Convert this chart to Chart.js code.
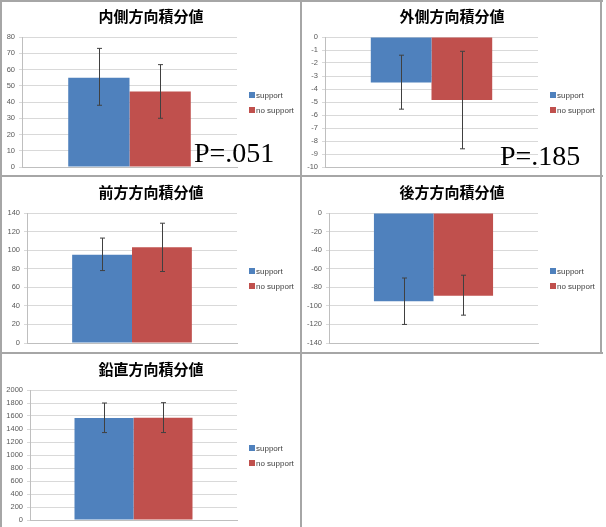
<!DOCTYPE html>
<html>
<head>
<meta charset="utf-8">
<script src="https://cdn.jsdelivr.net/npm/chart.js@4.4.0/dist/chart.umd.min.js"></script>
<style>
  body { margin: 0; background: #fff; width: 606px; height: 527px; position: relative; overflow: hidden; }
  .panel { position: absolute; width: 300px; height: 176px; }
  .panel canvas { position: absolute; left: 0; top: 0; }
  .line { position: absolute; background: #a6a6a6; }
  .pval { position: absolute; font-family: 'Liberation Serif', 'DejaVu Serif', serif; font-size: 28px; color: #000; }
</style>
</head>
<body>
<div class="panel" style="left:1px;top:1px"><canvas id="c1" width="300" height="176"></canvas></div>
<div class="panel" style="left:302px;top:1px"><canvas id="c2" width="300" height="176"></canvas></div>
<div class="panel" style="left:1px;top:177px"><canvas id="c3" width="300" height="176"></canvas></div>
<div class="panel" style="left:302px;top:177px"><canvas id="c4" width="300" height="176"></canvas></div>
<div class="panel" style="left:1px;top:354px"><canvas id="c5" width="300" height="176"></canvas></div>

<div class="line" style="left:0;top:0;width:603px;height:2px"></div>
<div class="line" style="left:0;top:0;width:2px;height:527px"></div>
<div class="line" style="left:300px;top:0;width:2px;height:527px"></div>
<div class="line" style="left:600px;top:0;width:2px;height:354px"></div>
<div class="line" style="left:0;top:175px;width:603px;height:2px"></div>
<div class="line" style="left:0;top:352px;width:603px;height:2px"></div>

<div class="pval" style="left:194px;top:137px">P=.051</div>
<div class="pval" style="left:500px;top:140px">P=.185</div>

<script>
const seriesNames = ['support', 'no support'];
const seriesColors = ['#4F81BD', '#C0504D'];

const innerTitle = '内側方向積分値';
const innerMeans = [55, 46.5];
const innerLow = [38, 30];
const innerHigh = [73, 63];
const innerRange = [0, 80, 10];

const outerTitle = '外側方向積分値';
const outerMeans = [-3.5, -4.85];
const outerLow = [-5.55, -8.6];
const outerHigh = [-1.4, -1.1];
const outerRange = [-10, 0, 1];

const frontTitle = '前方方向積分値';
const frontMeans = [95, 103];
const frontLow = [78, 77];
const frontHigh = [113, 129];
const frontRange = [0, 140, 20];

const backTitle = '後方方向積分値';
const backMeans = [-95, -89];
const backLow = [-120, -110];
const backHigh = [-70, -67];
const backRange = [-140, 0, 20];

const vertTitle = '鉛直方向積分値';
const vertMeans = [1570, 1575];
const vertLow = [1345, 1345];
const vertHigh = [1800, 1805];
const vertRange = [0, 2000, 200];

// draws the error bars from the dataset's low/high arrays
const errorBars = {
    id: 'errorBars',
    afterDatasetsDraw(chart) {
        const ctx = chart.ctx;
        const y = chart.scales.y;
        ctx.save();
        ctx.strokeStyle = '#404040';
        ctx.lineWidth = 1;
        chart.data.datasets.forEach((ds, i) => {
            const meta = chart.getDatasetMeta(i);
            meta.data.forEach((bar, j) => {
                const x = Math.round(bar.x) + 0.5;
                const top = y.getPixelForValue(ds.errHigh[j]);
                const bot = y.getPixelForValue(ds.errLow[j]);
                ctx.beginPath();
                ctx.moveTo(x, top); ctx.lineTo(x, bot);
                ctx.moveTo(x - 2.5, top); ctx.lineTo(x + 2.5, top);
                ctx.moveTo(x - 2.5, bot); ctx.lineTo(x + 2.5, bot);
                ctx.stroke();
            });
        });
        ctx.restore();
    }
};

// small excel-style legend to the right of the plot
const sideLegend = {
    id: 'sideLegend',
    afterDraw(chart) {
        const ctx = chart.ctx;
        const area = chart.chartArea;
        const x0 = area.right + 12;
        const mid = (area.top + area.bottom) / 2;
        ctx.save();
        ctx.font = "8px 'Liberation Sans'";
        ctx.textBaseline = 'middle';
        chart.data.datasets.forEach((ds, i) => {
            const yc = Math.round(mid - 7 + i * 15);
            ctx.fillStyle = ds.backgroundColor;
            ctx.fillRect(x0, yc - 3, 6, 6);
            ctx.fillStyle = '#404040';
            ctx.fillText(ds.label, x0 + 7, yc + 0.5);
        });
        ctx.restore();
    }
};

function makeChart(id, title, means, low, high, range, axisWidth) {
    const datasets = seriesNames.map((name, i) => ({
        label: name,
        data: [means[i]],
        errLow: [low[i]],
        errHigh: [high[i]],
        backgroundColor: seriesColors[i],
        borderWidth: 0,
        barPercentage: 1,
        categoryPercentage: 0.57
    }));
    return new Chart(document.getElementById(id), {
        type: 'bar',
        data: { labels: [''], datasets: datasets },
        plugins: [errorBars, sideLegend],
        options: {
            responsive: false,
            animation: false,
            layout: { padding: { left: 0, right: 0, top: 0, bottom: 2 } },
            plugins: {
                title: {
                    display: true,
                    text: title,
                    color: '#000',
                    font: { family: "'Noto Sans CJK JP'", size: 15, weight: 'bold' },
                    padding: { top: 6, bottom: 12 }
                },
                legend: { display: false },
                tooltip: { enabled: false }
            },
            scales: {
                x: {
                    grid: { display: false },
                    border: { color: '#bfbfbf' },
                    ticks: { display: false }
                },
                y: {
                    min: range[0], max: range[1],
                    ticks: {
                        stepSize: range[2],
                        autoSkip: false,
                        color: '#595959',
                        padding: 4,
                        font: { family: "'Liberation Sans'", size: 7.5 },
                        callback: (v) => String(v)
                    },
                    grid: { color: '#d9d9d9', tickLength: 3 },
                    border: { color: '#bfbfbf' },
                    afterFit(scale) { scale.width = axisWidth; }
                },
                // empty right-hand axis that keeps room for the legend
                side: {
                    position: 'right',
                    grid: { display: false },
                    border: { display: false },
                    ticks: { display: false },
                    afterFit(scale) { scale.width = 64; }
                }
            }
        }
    });
}

makeChart('c1', innerTitle, innerMeans, innerLow, innerHigh, innerRange, 21);
makeChart('c2', outerTitle, outerMeans, outerLow, outerHigh, outerRange, 23);
makeChart('c3', frontTitle, frontMeans, frontLow, frontHigh, frontRange, 26);
makeChart('c4', backTitle, backMeans, backLow, backHigh, backRange, 27);
makeChart('c5', vertTitle, vertMeans, vertLow, vertHigh, vertRange, 29);
</script>
</body>
</html>
